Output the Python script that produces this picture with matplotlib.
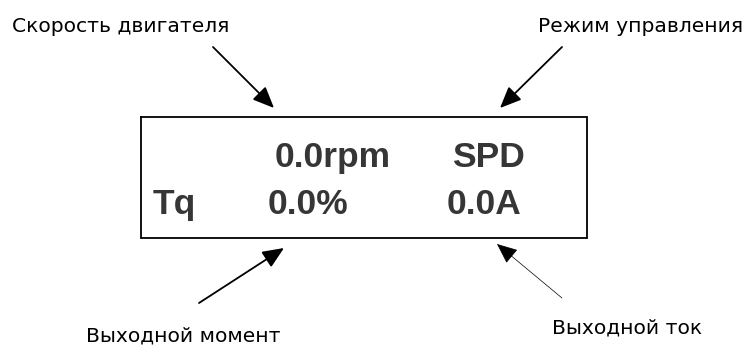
import matplotlib
matplotlib.use('Agg')
import matplotlib.pyplot as plt

plt.rcParams['font.family'] = ['DejaVu Sans']

# panel readout (text shown on the display)
display_row1 = ['0.0rpm', 'SPD']
display_row2 = ['Tq', '0.0%', '0.0A']

# callout labels: top-left, top-right, bottom-left, bottom-right
callout_labels = [
    'Скорость двигателя',
    'Режим управления',
    'Выходной момент',
    'Выходной ток',
]

W, H = 751, 345


def main() -> None:
    fig = plt.figure(figsize=(W / 100, H / 100), dpi=100, facecolor='white')
    ax = fig.add_axes([0, 0, 1, 1])
    ax.set_xlim(0, W)
    ax.set_ylim(H, 0)
    ax.axis('off')

    # display frame
    box_x = [141, 587, 587, 141, 141]
    box_y = [117, 117, 238, 238, 117]
    ax.plot(box_x, box_y, color='black', linewidth=1.3, solid_joinstyle='miter')

    disp_kw = dict(family='Liberation Sans', fontweight='bold', fontsize=25.5,
                   color='#363636', ha='left', va='baseline')
    for txt, x in zip(display_row1, [275, 452]):
        ax.text(x, 167, txt, **disp_kw)
    for txt, x in zip(display_row2, [153, 268, 447]):
        ax.text(x, 214, txt, **disp_kw)

    lab_kw = dict(fontsize=14.6, color='black', ha='left', va='baseline')
    lab_pos = [(12, 32), (538, 32), (86, 342), (552, 333)]
    for txt, (x, y) in zip(callout_labels, lab_pos):
        ax.text(x, y, txt, **lab_kw)

    # arrows: (tail, tip, line width)
    arrows = [
        ((213, 47), (274, 108), 1.3),
        ((562, 47), (500, 108), 1.3),
        ((199, 303), (284, 248), 1.3),
        ((562, 298), (497, 244), 0.5),
    ]
    for tail, tip, lw in arrows:
        ax.annotate(
            '', xy=tip, xytext=tail,
            arrowprops=dict(arrowstyle='-|>,head_length=0.65,head_width=0.28',
                            mutation_scale=20, lw=lw, color='black',
                            shrinkA=0, shrinkB=0),
        )

    fig.savefig('out.png', dpi=100, facecolor='white')
    plt.close(fig)


if __name__ == '__main__':
    main()
